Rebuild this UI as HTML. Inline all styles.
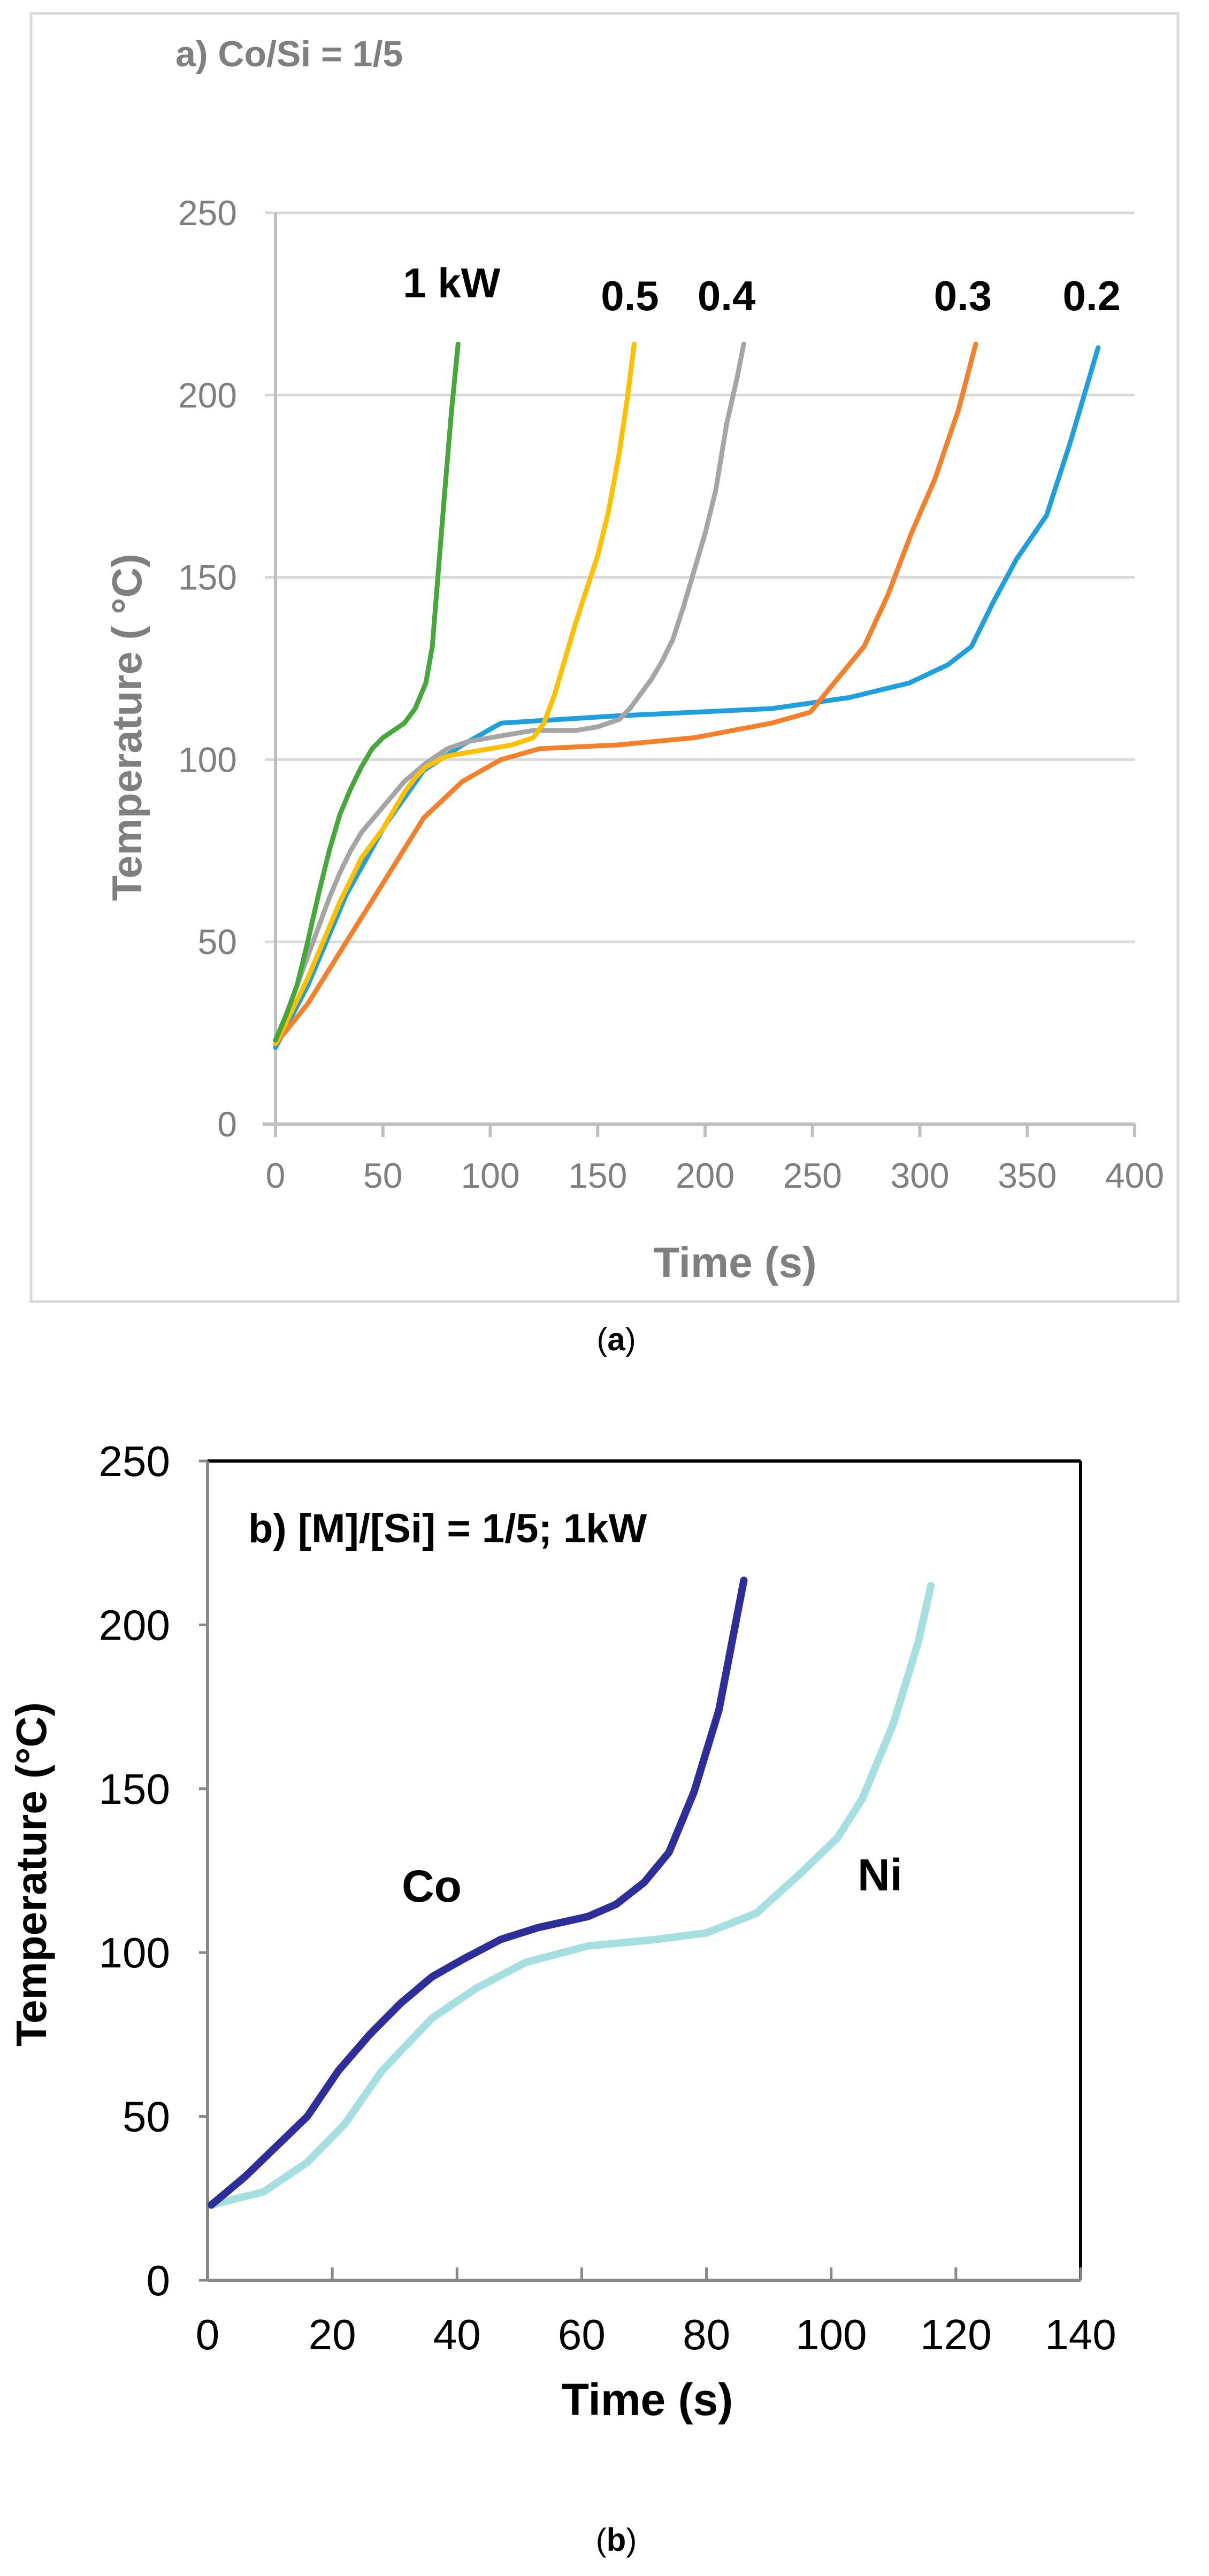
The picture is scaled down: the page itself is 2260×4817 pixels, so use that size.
<!DOCTYPE html>
<html><head><meta charset="utf-8"><style>
html,body{margin:0;padding:0;background:#fff}
svg{display:block}
text{font-family:"Liberation Sans",sans-serif}
</style></head><body>
<svg id="fig" width="2260" height="4817" viewBox="0 0 2260 4817" xmlns="http://www.w3.org/2000/svg">
<rect x="58" y="25" width="2144" height="2409" fill="#fff" stroke="#d9d9d9" stroke-width="5"/>
<g id="ga"></g>
<text x="328" y="124" font-size="68" font-weight="bold" fill="#7f7f7f">a) Co/Si = 1/5</text>
<text transform="translate(264,1360) rotate(-90)" text-anchor="middle" font-size="78" font-weight="bold" fill="#7f7f7f">Temperature ( °C)</text>
<text x="1374" y="2388" text-anchor="middle" font-size="80" font-weight="bold" fill="#7f7f7f">Time (s)</text>
<text x="1152" y="2525" text-anchor="middle" font-size="60" font-family="Liberation Serif,serif">(<tspan font-weight="bold">a</tspan>)</text>
<g id="gb"></g>
<text x="464" y="2884" font-size="76" font-weight="bold" fill="#000">b) [M]/[Si] = 1/5; 1kW</text>
<text transform="translate(86,3505) rotate(-90)" text-anchor="middle" font-size="80" font-weight="bold">Temperature (°C)</text>
<text x="1210" y="4516" text-anchor="middle" font-size="84" font-weight="bold">Time (s)</text>
<text x="1152" y="4770" text-anchor="middle" font-size="60" font-family="Liberation Serif,serif">(<tspan font-weight="bold">b</tspan>)</text>
</svg>
<script>
// ---- Chart A data ----
const aXTicks=[0,50,100,150,200,250,300,350,400];
const aYTicks=[0,50,100,150,200,250];
const aNames=["1 kW","0.5","0.4","0.3","0.2"];
const aColors=["#46a83a","#ffc000","#a5a5a5","#f5802c","#1f9fdc"];
const t1=[0,5,10,15,20,25,30,35,40,45,50,55,60,65,70,73,76,79,82,85];
const T1=[23,30,38,50,63,75,85,92,98,103,106,108,110,114,121,131,153,175,196,214];
const t05=[0,5,10,15,20,25,30,35,40,45,50,55,60,65,70,80,90,100,110,120,125,130,135,140,145,150,155,160,164,167];
const T05=[22,28,34,40,47,54,61,67,73,77,81,86,91,95,98,101,102,103,104,106,110,118,128,138,147,156,168,184,200,214];
const t04=[0,5,10,15,20,25,30,35,40,50,60,70,80,90,100,110,120,140,150,160,165,170,175,180,185,190,195,200,205,210,215,218];
const T04=[23,30,38,46,54,62,69,75,80,87,94,99,103,105,106,107,108,108,109,111,114,118,122,127,133,142,152,162,174,192,205,214];
const t03=[0,15,33,51,69,87,105,123,159,195,231,249,260,274,285,296,307,318,326];
const T03=[22,33,50,67,84,94,100,103,104,106,110,113,121,131,145,162,177,196,214];
const t02=[0,15,33,51,69,87,105,159,231,267,295,313,324,334,345,359,370,377,383];
const T02=[21,38,63,82,97,104,110,112,114,117,121,126,131,143,155,167,187,201,213];
const aLabelX=[82,165,210,320,380];
// ---- Chart B data ----
const bXTicks=[0,20,40,60,80,100,120,140];
const bYTicks=[0,50,100,150,200,250];
const tCo=[0.6,6,11,16,21,26,31,36,41,47,53,61,65.5,70,74,78,82,86];
const TCo=[23,31.6,40.8,50,64,75,84.6,92.6,98,104,107.6,111,114.7,121.4,130.6,149,174,213.6];
const tNi=[0.6,9,16,22,28,36,43,51,61,72,80,88,95,101,105,110,114,116];
const TNi=[23,27,36,47.7,64,80,89,97,102,104,106,112,124,135,147,170,195,212];

const NS="http://www.w3.org/2000/svg";
function mk(parent,tag,attrs){const e=document.createElementNS(NS,tag);for(const k in attrs)e.setAttribute(k,attrs[k]);parent.appendChild(e);return e;}
function pathD(xs,ys,sx,sy){return xs.map((x,i)=>(i?"L":"M")+sx(x).toFixed(1)+","+sy(ys[i]).toFixed(1)).join("");}

// Chart A
const ga=document.getElementById("ga");
const ax=v=>515+(v/400)*(2121-515);
const ay=v=>2102-(v/250)*(2102-398);
aYTicks.forEach(v=>{
  if(v>0){const l=mk(ga,"line",{x1:ax(0)-20,x2:ax(400),y1:ay(v),y2:ay(v),stroke:"#d9d9d9","stroke-width":5});
  
  }
  const t=mk(ga,"text",{x:443,y:ay(v)+23,"text-anchor":"end","font-size":66,fill:"#7f7f7f"});t.textContent=v;
  
  
});
aXTicks.forEach(v=>{
  const l=mk(ga,"line",{x1:ax(v),x2:ax(v),y1:ay(0),y2:ay(0)+24,stroke:"#bfbfbf","stroke-width":6});
  
  
  const t=mk(ga,"text",{x:ax(v),y:2221,"text-anchor":"middle","font-size":66,fill:"#7f7f7f"});t.textContent=v;
  
  
});
const axl=mk(ga,"line",{x1:ax(0),x2:ax(0),y1:ay(0)+24,y2:ay(250),stroke:"#bfbfbf","stroke-width":6});


const axb=mk(ga,"line",{x1:ax(0)-24,x2:ax(400),y1:ay(0),y2:ay(0),stroke:"#bfbfbf","stroke-width":6});


const aSeries=[[t1,T1],[t05,T05],[t04,T04],[t03,T03],[t02,T02]];
const order=[4,3,2,1,0];
order.forEach(i=>{
  const p=mk(ga,"path",{d:pathD(aSeries[i][0],aSeries[i][1],ax,ay),fill:"none",stroke:aColors[i],"stroke-width":9,"stroke-linejoin":"round","stroke-linecap":"round"});
  
  
});
aNames.forEach((n,i)=>{
  const t=mk(ga,"text",{x:ax(aLabelX[i]),y:i==0?556:580,"text-anchor":"middle","font-size":78,"font-weight":"bold",fill:"#000"});t.textContent=n;
  
  
});

// Chart B
const gb=document.getElementById("gb");
const bx=v=>388+(v/140)*(2020-388);
const by=v=>4264-(v/250)*(4264-2732);
mk(gb,"line",{x1:bx(0),x2:bx(140),y1:by(250),y2:by(250),stroke:"#000","stroke-width":6});
mk(gb,"line",{x1:bx(140),x2:bx(140),y1:by(250),y2:by(0),stroke:"#000","stroke-width":6});
const bl=mk(gb,"line",{x1:bx(0),x2:bx(0),y1:by(0),y2:by(250),stroke:"#888","stroke-width":6});


const bb=mk(gb,"line",{x1:bx(0),x2:bx(140),y1:by(0),y2:by(0),stroke:"#888","stroke-width":6});


bYTicks.forEach(v=>{
  const l=mk(gb,"line",{x1:bx(0)-16,x2:bx(0),y1:by(v),y2:by(v),stroke:"#888","stroke-width":5});
  
  
  const t=mk(gb,"text",{x:318,y:by(v)+28,"text-anchor":"end","font-size":80,fill:"#000"});t.textContent=v;
  
  
});
bXTicks.forEach(v=>{
  const l=mk(gb,"line",{x1:bx(v),x2:bx(v),y1:by(0),y2:by(0)-24,stroke:"#888","stroke-width":5});
  
  
  const t=mk(gb,"text",{x:bx(v),y:4393,"text-anchor":"middle","font-size":80,fill:"#000"});t.textContent=v;
  
  
});
const pNi=mk(gb,"path",{d:pathD(tNi,TNi,bx,by),fill:"none",stroke:"#a6dfe0","stroke-width":14,"stroke-linejoin":"round","stroke-linecap":"round"});


const pCo=mk(gb,"path",{d:pathD(tCo,TCo,bx,by),fill:"none",stroke:"#2e2e9a","stroke-width":14,"stroke-linejoin":"round","stroke-linecap":"round"});


const lc=mk(gb,"text",{x:807,y:3556,"text-anchor":"middle","font-size":84,"font-weight":"bold"});lc.textContent="Co";


const ln=mk(gb,"text",{x:1645,y:3535,"text-anchor":"middle","font-size":84,"font-weight":"bold"});ln.textContent="Ni";


</script>
</body></html>
